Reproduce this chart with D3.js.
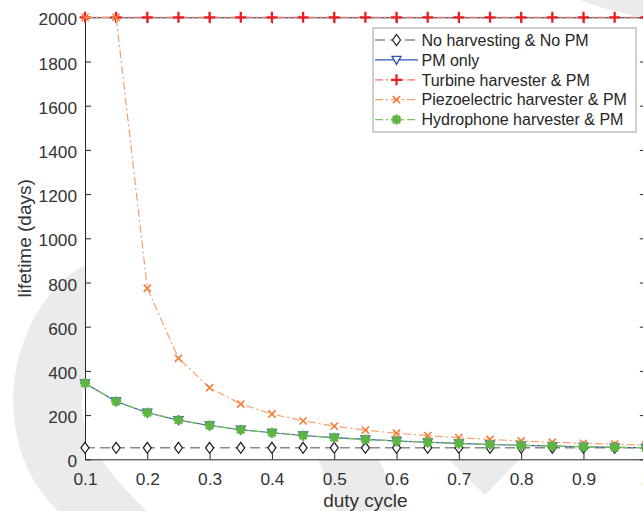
<!DOCTYPE html>
<html>
<head>
<meta charset="utf-8">
<script src="https://cdn.jsdelivr.net/npm/d3@7"></script>
<style>
  html, body { margin: 0; padding: 0; background: #fff; }
  svg { display: block; font-family: "Liberation Sans", Arial, Helvetica, sans-serif; }
</style>
</head>
<body>
<svg id="chart" width="643" height="511"></svg>
<script>
// Lifetime (days) versus duty cycle for each harvesting / power-management option
const dutyCycle = [0.1, 0.15, 0.2, 0.25, 0.3, 0.35, 0.4, 0.45, 0.5, 0.55, 0.6, 0.65, 0.7, 0.75, 0.8, 0.85, 0.9, 0.95, 1.0];
const noHarvestNoPM = [52, 52, 52, 52, 52, 52, 52, 52, 52, 52, 52, 52, 52, 52, 52, 52, 52, 52, 52];
const pmOnly = [344, 262, 211, 177, 153, 134, 120, 108, 98, 90, 83, 77, 72, 67, 63, 60, 57, 54, 52];
const turbinePM = [2000, 2000, 2000, 2000, 2000, 2000, 2000, 2000, 2000, 2000, 2000, 2000, 2000, 2000, 2000, 2000, 2000, 2000, 2000];
const piezoPM = [2000, 2000, 774, 457, 324, 250, 205, 174, 150, 132, 118, 107, 98, 90, 83, 77, 72, 68, 64];
const hydroPM = [344, 262, 211, 178, 153, 134, 120, 108, 98, 90, 83, 77, 72, 67, 63, 60, 57, 54, 52];

const seriesNames = ["No harvesting & No PM", "PM only", "Turbine harvester & PM", "Piezoelectric harvester & PM", "Hydrophone harvester & PM"];
const xTickValues = [0.1, 0.2, 0.3, 0.4, 0.5, 0.6, 0.7, 0.8, 0.9, 1.0];
const xTickLabels = ["0.1", "0.2", "0.3", "0.4", "0.5", "0.6", "0.7", "0.8", "0.9", "1"];
const yTickValues = [0, 200, 400, 600, 800, 1000, 1200, 1400, 1600, 1800, 2000];
const yTickLabels = ["0", "200", "400", "600", "800", "1000", "1200", "1400", "1600", "1800", "2000"];

const svg = d3.select("#chart");
const plot = { left: 85, right: 645.8, top: 17.3, bottom: 459.3 };
const axisColor = "#262626";

// Light background emblem sitting behind the figure
const bg = svg.append("g").attr("fill", "#ebebeb");
bg.append("path").attr("d",
  "M92,262 C20,290 -25,430 58,511 L147,511 C115,480 78,440 82,400 C84,360 95,320 100,300 Z");
bg.append("path").attr("d", "M318,459 L378,459 C388,478 396,494 402,511 L337,511 C332,494 326,476 318,459 Z");
bg.append("path").attr("d", "M448,459 L520,459 L485,495 Z");
bg.append("path").attr("d", "M580,0 Q605,10 645,18 L645,0 Z");

// White axes area
svg.append("rect")
  .attr("x", plot.left).attr("y", plot.top)
  .attr("width", plot.right - plot.left).attr("height", plot.bottom - plot.top)
  .attr("fill", "#fff");

const x = d3.scaleLinear().domain([0.1, 1.0]).range([plot.left, plot.right]);
const y = d3.scaleLinear().domain([0, 2000]).range([plot.bottom, plot.top]);

function styleAxis(g) {
  g.selectAll("path.domain").attr("stroke", axisColor).attr("stroke-width", 1);
  g.selectAll(".tick line").attr("stroke", axisColor).attr("stroke-width", 1);
  g.selectAll(".tick text").attr("fill", "#333").attr("font-size", 17.3)
    .attr("font-family", "Liberation Sans, Arial, Helvetica, sans-serif");
}

// Box axes: bottom/left with labels, top/right with ticks only
const gx = svg.append("g").attr("transform", `translate(0,${plot.bottom})`)
  .call(d3.axisBottom(x).tickValues(xTickValues)
    .tickFormat((d, i) => xTickLabels[i]).tickSizeInner(-6).tickSizeOuter(0).tickPadding(13.5));
styleAxis(gx);

const gy = svg.append("g").attr("transform", `translate(${plot.left},0)`)
  .call(d3.axisLeft(y).tickValues(yTickValues)
    .tickFormat((d, i) => yTickLabels[i]).tickSizeInner(-6).tickSizeOuter(0).tickPadding(8));
styleAxis(gy);
gy.selectAll(".tick text").attr("dy", "0.44em");

const gTop = svg.append("g").attr("transform", `translate(0,${plot.top})`)
  .call(d3.axisTop(x).tickValues(xTickValues).tickFormat("").tickSizeInner(-6).tickSizeOuter(0));
styleAxis(gTop);

const gRight = svg.append("g").attr("transform", `translate(${plot.right},0)`)
  .call(d3.axisRight(y).tickValues(yTickValues).tickFormat("").tickSizeInner(-6).tickSizeOuter(0));
styleAxis(gRight);

// Axis titles
svg.append("text")
  .attr("x", (plot.left + plot.right) / 2).attr("y", 506.5)
  .attr("text-anchor", "middle").attr("font-size", 19).attr("fill", "#333")
  .text("duty cycle");
svg.append("text")
  .attr("transform", `translate(31,${(plot.top + plot.bottom) / 2}) rotate(-90)`)
  .attr("text-anchor", "middle").attr("font-size", 19).attr("fill", "#333")
  .text("lifetime (days)");

// Marker shapes
const markers = {
  diamond: g => g.append("path").attr("d", "M0,-5.5L4,0L0,5.5L-4,0Z")
    .attr("fill", "#fff").attr("stroke", "#1a1a1a").attr("stroke-width", 1.2),
  triDown: g => g.append("path").attr("d", "M-4.5,-3.5L4.5,-3.5L0,4.5Z")
    .attr("fill", "#fff").attr("stroke", "#2d4fb3").attr("stroke-width", 1.3),
  plus: g => g.append("path").attr("d", "M-5.5,0H5.5M0,-5.5V5.5")
    .attr("fill", "none").attr("stroke", "#ee1c24").attr("stroke-width", 2.3),
  cross: g => g.append("path").attr("d", "M-3.6,-3.6L3.6,3.6M-3.6,3.6L3.6,-3.6")
    .attr("fill", "none").attr("stroke", "#f47a38").attr("stroke-width", 1.6),
  star: g => g.append("path").attr("d", "M-5,0H5M0,-5V5M-3.6,-3.6L3.6,3.6M-3.6,3.6L3.6,-3.6")
    .attr("fill", "none").attr("stroke", "#5eb543").attr("stroke-width", 2.6)
};

const series = [
  { name: seriesNames[0], values: noHarvestNoPM, color: "#8a8a8a", width: 1.6, dash: "10,5", marker: "diamond" },
  { name: seriesNames[1], values: pmOnly, color: "#3553b0", width: 1.1, dash: null, marker: "triDown" },
  { name: seriesNames[2], values: turbinePM, color: "#f07474", width: 1.3, dash: "8,3,2,3", marker: "plus" },
  { name: seriesNames[3], values: piezoPM, color: "#f6a06c", width: 1.2, dash: "8,3,2,3", marker: "cross" },
  { name: seriesNames[4], values: hydroPM, color: "#7cc461", width: 1.4, dash: "8,3,2,3", marker: "star" }
];

const line = d3.line().x(d => x(d[0])).y(d => y(d[1]));

series.forEach(s => {
  const pts = dutyCycle.map((d, i) => [d, s.values[i]]);
  svg.append("path").datum(pts)
    .attr("d", line).attr("fill", "none")
    .attr("stroke", s.color).attr("stroke-width", s.width)
    .attr("stroke-dasharray", s.dash);
  const mg = svg.append("g");
  pts.forEach(p => {
    const m = mg.append("g").attr("transform", `translate(${x(p[0])},${y(p[1])})`);
    markers[s.marker](m);
  });
});

// Legend
const lg = svg.append("g");
lg.append("rect").attr("x", 373).attr("y", 28).attr("width", 263).attr("height", 104)
  .attr("fill", "#fff").attr("stroke", "#a0a0a0").attr("stroke-width", 1);
series.forEach((s, i) => {
  const cy = 40 + i * 19.9;
  lg.append("line").attr("x1", 375).attr("x2", 418).attr("y1", cy).attr("y2", cy)
    .attr("stroke", s.color).attr("stroke-width", s.width)
    .attr("stroke-dasharray", s.dash);
  const m = lg.append("g").attr("transform", `translate(396.5,${cy})`);
  markers[s.marker](m);
  lg.append("text").attr("x", 421.5).attr("y", cy).attr("dy", "0.36em")
    .attr("font-size", 16).attr("fill", "#262626").text(s.name);
});
</script>
</body>
</html>
